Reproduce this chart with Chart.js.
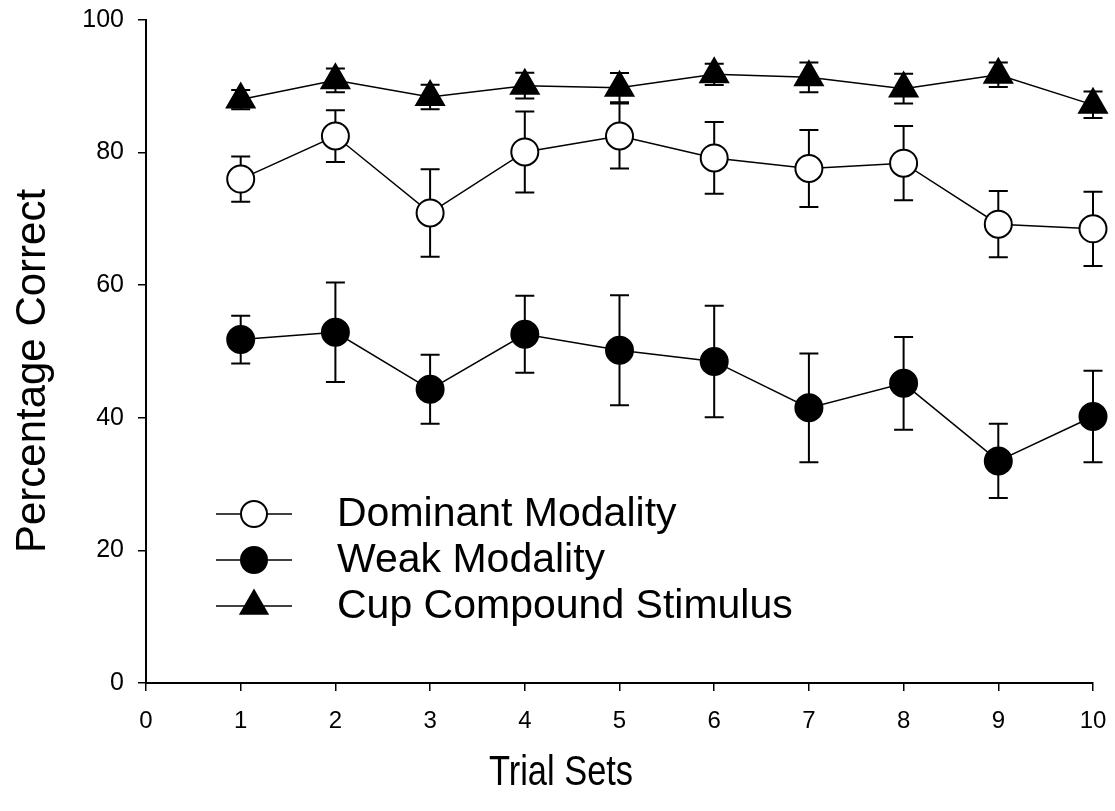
<!DOCTYPE html>
<html>
<head>
<meta charset="utf-8">
<script src="https://cdn.jsdelivr.net/npm/chart.js@4/dist/chart.umd.min.js"></script>
<style>
html,body{margin:0;padding:0;background:#fff;}
#wrap{width:1115px;height:811px;}
</style>
</head>
<body>
<div id="wrap"><canvas id="c" width="1115" height="811"></canvas></div>
<script>
const trialSets = [1, 2, 3, 4, 5, 6, 7, 8, 9, 10];
const dominant = [76.0, 82.5, 70.9, 80.1, 82.5, 79.2, 77.6, 78.4, 69.2, 68.5];
const dominantErr = [3.4, 3.9, 6.6, 6.1, 4.9, 5.4, 5.8, 5.6, 5.0, 5.6];
const weak = [51.8, 52.9, 44.3, 52.6, 50.2, 48.5, 41.5, 45.2, 33.5, 40.2];
const weakErr = [3.6, 7.5, 5.2, 5.8, 8.3, 8.4, 8.2, 7.0, 5.6, 6.9];
const cup = [88.0, 90.9, 88.4, 90.1, 89.8, 91.8, 91.35, 89.65, 91.75, 87.2];
const cupErr = [1.45, 1.8, 1.85, 1.95, 2.2, 1.6, 2.25, 2.25, 1.85, 2.0];
const seriesNames = ['Dominant Modality', 'Weak Modality', 'Cup Compound Stimulus'];
const xTitle = 'Trial Sets';
const yTitle = 'Percentage Correct';

const FONT = "'Liberation Sans', Arial, sans-serif";

function pts(vals) { return trialSets.map((x, i) => ({ x: x, y: vals[i] })); }

const errorBars = {
  id: 'errorBars',
  beforeDatasetsDraw(chart) {
    const ctx = chart.ctx;
    const xs = chart.scales.x, ys = chart.scales.y;
    ctx.save();
    ctx.strokeStyle = '#000';
    ctx.lineWidth = 2;
    chart.data.datasets.forEach(ds => {
      const errs = ds.errors;
      ds.data.forEach((p, i) => {
        const px = xs.getPixelForValue(p.x);
        const yt = ys.getPixelForValue(p.y + errs[i]);
        const yb = ys.getPixelForValue(p.y - errs[i]);
        const cap = 9.5;
        ctx.beginPath();
        ctx.moveTo(px, yt); ctx.lineTo(px, yb);
        ctx.moveTo(px - cap, yt); ctx.lineTo(px + cap, yt);
        ctx.moveTo(px - cap, yb); ctx.lineTo(px + cap, yb);
        ctx.stroke();
      });
    });
    ctx.restore();
  }
};

const customLegendTitles = {
  id: 'customLegendTitles',
  afterDraw(chart) {
    const ctx = chart.ctx;
    ctx.save();
    const rows = [514, 560, 606];
    const x0 = 216, x1 = 292, mx = 254, tx = 337;
    chart.data.datasets.forEach((ds, i) => {
      const y = rows[i];
      ctx.strokeStyle = '#000';
      ctx.lineWidth = 1.5;
      ctx.beginPath(); ctx.moveTo(x0, y); ctx.lineTo(x1, y); ctx.stroke();
      ctx.lineWidth = 2;
      ctx.fillStyle = ds.pointBackgroundColor;
      ctx.beginPath();
      if (ds.pointStyle === 'triangle') {
        const r = 15.5;
        ctx.moveTo(mx, y - r);
        ctx.lineTo(mx + r * Math.sin(2 * Math.PI / 3), y + r / 2);
        ctx.lineTo(mx - r * Math.sin(2 * Math.PI / 3), y + r / 2);
        ctx.closePath();
      } else {
        ctx.arc(mx, y, 13, 0, Math.PI * 2);
      }
      ctx.fill(); ctx.stroke();
      ctx.fillStyle = '#000';
      ctx.font = '41px ' + FONT;
      ctx.textAlign = 'left';
      ctx.textBaseline = 'middle';
      ctx.fillText(ds.label, tx, y + 1);
    });
    ctx.fillStyle = '#000';
    ctx.font = '42px ' + FONT;
    ctx.textAlign = 'center';
    ctx.textBaseline = 'alphabetic';
    ctx.save();
    ctx.translate(561, 785);
    ctx.scale(0.82, 1);
    ctx.fillText(xTitle, 0, 0);
    ctx.restore();
    ctx.translate(45, 371);
    ctx.rotate(-Math.PI / 2);
    ctx.fillText(yTitle, 0, 0);
    ctx.restore();
  }
};

const common = { borderColor: '#000', borderWidth: 1.5, pointBorderColor: '#000', pointBorderWidth: 2, clip: false, tension: 0 };

new Chart(document.getElementById('c'), {
  type: 'line',
  data: {
    datasets: [
      Object.assign({ label: seriesNames[0], data: pts(dominant), errors: dominantErr, pointStyle: 'circle', pointRadius: 13.5, pointBackgroundColor: '#fff' }, common),
      Object.assign({ label: seriesNames[1], data: pts(weak), errors: weakErr, pointStyle: 'circle', pointRadius: 13.5, pointBackgroundColor: '#000' }, common),
      Object.assign({ label: seriesNames[2], data: pts(cup), errors: cupErr, pointStyle: 'triangle', pointRadius: 16, pointBackgroundColor: '#000' }, common)
    ]
  },
  options: {
    responsive: false,
    animation: false,
    layout: { padding: { left: 0, top: 20, right: 22, bottom: 0 } },
    plugins: { legend: { display: false }, tooltip: { enabled: false } },
    scales: {
      x: {
        type: 'linear', min: 0, max: 10,
        afterFit(s) { s.height = 128; s.paddingLeft = 0; s.paddingRight = 0; },
        ticks: { stepSize: 1, color: '#000', padding: 16, font: { size: 24, family: FONT }, maxRotation: 0 },
        grid: { display: true, drawOnChartArea: false, drawTicks: true, tickLength: 8, color: '#000', lineWidth: 1.5 },
        border: { display: true, color: '#000', width: 2 }
      },
      y: {
        type: 'linear', min: 0, max: 100,
        afterFit(s) { s.width = 146; s.paddingTop = 0; s.paddingBottom = 0; },
        ticks: { stepSize: 20, color: '#000', padding: 14, font: { size: 25, family: FONT } },
        grid: { display: true, drawOnChartArea: false, drawTicks: true, tickLength: 8, color: '#000', lineWidth: 1.5 },
        border: { display: true, color: '#000', width: 2 }
      }
    }
  },
  plugins: [errorBars, customLegendTitles]
});
</script>
</body>
</html>
